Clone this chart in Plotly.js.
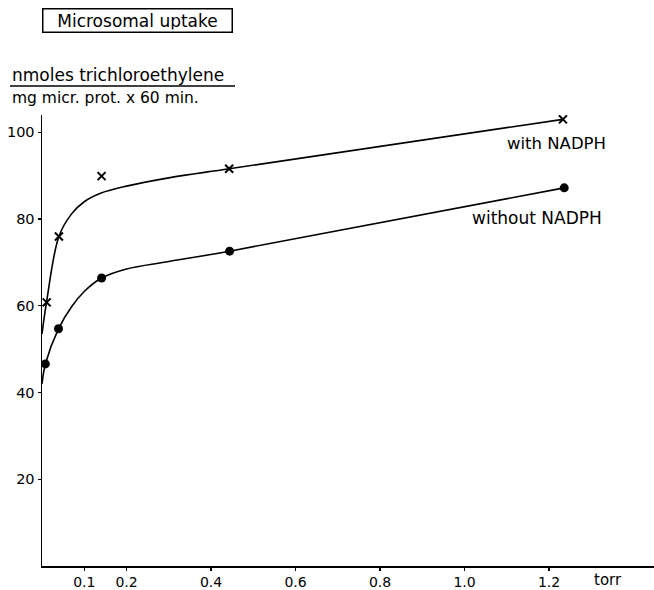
<!DOCTYPE html>
<html>
<head>
<meta charset="utf-8">
<script src="https://cdn.plot.ly/plotly-3.0.1.min.js"></script>
<style>html,body{margin:0;padding:0;background:#fff;}#chart{width:654px;height:590px;}</style>
</head>
<body>
<div id="chart"></div>
<script>
// Measured points (torr, nmoles / mg micr. prot. x 60 min)
const withX = [0.011, 0.040, 0.141, 0.443, 1.233];
const withY = [60.8, 76.0, 89.9, 91.6, 103.0];
const withoutX = [0.008, 0.039, 0.141, 0.444, 1.236];
const withoutY = [46.6, 54.7, 66.4, 72.6, 87.2];

// Hand-drawn fitted curves
const withCurveX = [0, 0.011, 0.040, 0.070, 0.100, 0.140, 0.200, 0.300, 0.443, 1.233];
const withCurveY = [53.5, 61.0, 76.0, 81.2, 84.0, 86.0, 87.6, 89.5, 91.6, 103.0];
const withoutCurveX = [0, 0.008, 0.039, 0.070, 0.100, 0.141, 0.200, 0.300, 0.444, 1.236];
const withoutCurveY = [42.0, 46.6, 54.7, 59.8, 63.3, 66.4, 68.5, 70.2, 72.6, 87.2];

const xTickVals = [0.1, 0.2, 0.4, 0.6, 0.8, 1.0, 1.2];
const xTickText = ['0.1', '0.2', '0.4', '0.6', '0.8', '1.0', '1.2'];
const yTickVals = [20, 40, 60, 80, 100];
const yTickText = ['20', '40', '60', '80', '100'];

const FONT = 'DejaVu Sans, sans-serif';

const traces = [
  {x: withCurveX, y: withCurveY, mode: 'lines', line: {color: '#000', width: 1.6, shape: 'spline', smoothing: 1.0}, hoverinfo: 'skip', showlegend: false},
  {x: withoutCurveX, y: withoutCurveY, mode: 'lines', line: {color: '#000', width: 1.6, shape: 'spline', smoothing: 1.0}, hoverinfo: 'skip', showlegend: false},
  {x: withX, y: withY, mode: 'markers', name: 'with NADPH', marker: {symbol: 'x-thin', size: 8, color: '#000', line: {color: '#000', width: 2}}, showlegend: false},
  {x: withoutX, y: withoutY, mode: 'markers', name: 'without NADPH', marker: {symbol: 'circle', size: 9, color: '#000'}, showlegend: false}
];

const layout = {
  width: 654, height: 590,
  margin: {l: 42, r: 0, t: 115, b: 24},
  paper_bgcolor: '#fff', plot_bgcolor: '#fff',
  font: {family: FONT, color: '#000', size: 14},
  xaxis: {
    range: [0, 1.4485], showgrid: false, zeroline: false,
    showline: true, linecolor: '#000', linewidth: 1.5,
    tickmode: 'array', tickvals: xTickVals, ticktext: xTickText,
    ticks: 'outside', ticklen: 3, tickwidth: 1.2, tickcolor: '#000',
    tickfont: {family: FONT, size: 14, color: '#000'}
  },
  yaxis: {
    range: [0, 104], showgrid: false, zeroline: false,
    showline: true, linecolor: '#000', linewidth: 1.5,
    tickmode: 'array', tickvals: yTickVals, ticktext: yTickText,
    ticks: 'outside', ticklen: 3, tickwidth: 1.2, tickcolor: '#000',
    tickfont: {family: FONT, size: 14.5, color: '#000'}
  },
  shapes: [
    {type: 'line', xref: 'paper', yref: 'paper', x0: (10 - 42) / 612, x1: (235 - 42) / 612, y0: (566 - 86) / 451, y1: (566 - 86) / 451, line: {color: '#000', width: 1.5}}
  ],
  annotations: [
    {xref: 'paper', yref: 'paper', x: 0, y: (566 - 21) / 451, xanchor: 'left', yanchor: 'middle',
     text: 'Microsomal uptake', showarrow: false, font: {family: FONT, size: 17, color: '#000'},
     bordercolor: '#000', borderwidth: 1.5, borderpad: 2, width: 184, height: 18},
    {xref: 'paper', yref: 'paper', x: (10 - 42) / 612, y: (566 - 75) / 451, xanchor: 'left', yanchor: 'middle',
     text: 'nmoles trichloroethylene', showarrow: false, font: {family: FONT, size: 17, color: '#000'}},
    {xref: 'paper', yref: 'paper', x: (10 - 42) / 612, y: (566 - 98) / 451, xanchor: 'left', yanchor: 'middle',
     text: 'mg micr. prot. x 60 min.', showarrow: false, font: {family: FONT, size: 15.5, color: '#000'}},
    {xref: 'x', yref: 'y', x: 1.217, y: 97.5, xanchor: 'center', yanchor: 'middle',
     text: 'with NADPH', showarrow: false, font: {family: FONT, size: 16.5, color: '#000'}},
    {xref: 'x', yref: 'y', x: 1.172, y: 80.2, xanchor: 'center', yanchor: 'middle',
     text: 'without NADPH', showarrow: false, font: {family: FONT, size: 17, color: '#000'}},
    {xref: 'paper', yref: 'paper', x: (608 - 42) / 612, y: (566 - 580) / 451, xanchor: 'center', yanchor: 'middle',
     text: 'torr', showarrow: false, font: {family: FONT, size: 15, color: '#000'}}
  ]
};

Plotly.newPlot('chart', traces, layout, {displayModeBar: false, staticPlot: true});
</script>
</body>
</html>
